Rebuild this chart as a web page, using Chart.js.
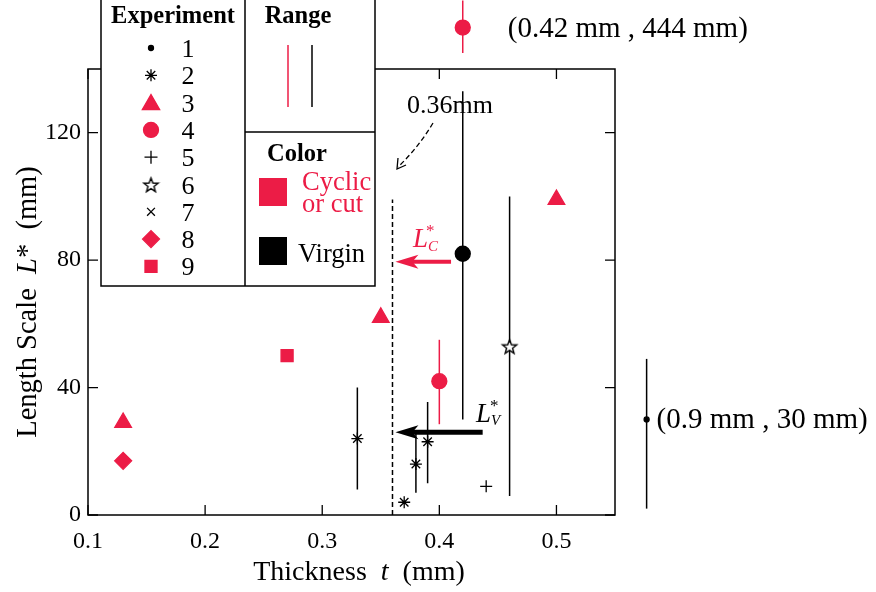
<!DOCTYPE html>
<html>
<head>
<meta charset="utf-8">
<title>Length scale vs thickness</title>
<script src="https://cdn.jsdelivr.net/npm/chart.js@4.4.1/dist/chart.umd.min.js"></script>
<style>
  html, body { margin: 0; padding: 0; background: #fff; }
  #wrap { width: 876px; height: 592px; }
</style>
</head>
<body>
<div id="wrap"><canvas id="lengthChart" width="876" height="592"></canvas></div>
<script>
// ===== Length scale L* against sheet thickness t =====

const RED = '#ec1c46';
const SERIF = "'Liberation Serif', 'DejaVu Serif', serif";

// ---- Axis ticks ----
const xTicks = [0.1, 0.2, 0.3, 0.4, 0.5];
const yTicks = [0, 40, 80, 120];

// ---- Experiments (t in mm, L* in mm) ----
const exp2T = [0.33, 0.38, 0.39, 0.37];     // asterisk, virgin
const exp2L = [24, 16, 23, 4];
const exp3T = [0.13, 0.35, 0.50];           // triangle, cyclic/cut
const exp3L = [29, 62, 99];
const exp4CutT = [0.40];                    // circle, cyclic/cut
const exp4CutL = [42];
const exp4VirginT = [0.42];                 // circle, virgin
const exp4VirginL = [82];
const exp5T = [0.44];                       // plus, virgin
const exp5L = [9];
const exp6T = [0.46];                       // open star, virgin
const exp6L = [53];
const exp8T = [0.13];                       // diamond, cyclic/cut
const exp8L = [17];
const exp9T = [0.27];                       // square, cyclic/cut
const exp9L = [50];

// ---- Ranges (vertical bars) ----
const rangeVirginT  = [0.33, 0.38, 0.39, 0.42, 0.46];
const rangeVirginLo = [8, 7, 10, 30, 6];
const rangeVirginHi = [40, 26, 35.5, 133, 100];
const rangeCutT  = [0.40];
const rangeCutLo = [28.5];
const rangeCutHi = [55];

// ---- Off-scale results, shown past the axis break ----
const exp1T = 0.9, exp1L = 30, exp1Lo = 2, exp1Hi = 49;
const exp1ShownT = 0.577;                    // drawn just right of the frame
const exp4FarT = 0.42, exp4FarL = 444;
const exp4FarShownL = 153, exp4FarShownLo = 145, exp4FarShownHi = 161.5;  // drawn above the frame

// ---- Critical thickness ----
const cutoffT = 0.36;
const cutoffTop = 99;

// ---- helpers ----
function pts(t, l) { return t.map((v, i) => ({ x: v, y: l[i] })); }
function bars(t, lo, hi) {
    const out = [];
    t.forEach((v, i) => { out.push({ x: v, y: lo[i] }, { x: v, y: hi[i] }, { x: v, y: null }); });
    return out;
}

function makeStar(r) {
    const s = Math.ceil(r * 2 + 4);
    const c = document.createElement('canvas');
    c.width = c.height = s;
    const g = c.getContext('2d');
    g.beginPath();
    for (let k = 0; k < 10; k++) {
        const rr = k % 2 ? r * 0.42 : r;
        const a = -Math.PI / 2 + k * Math.PI / 5;
        const px = s / 2 + rr * Math.cos(a), py = s / 2 + 1 + rr * Math.sin(a);
        if (k) g.lineTo(px, py); else g.moveTo(px, py);
    }
    g.closePath();
    g.fillStyle = '#fff';
    g.fill();
    g.strokeStyle = '#000';
    g.lineWidth = 1.4;
    g.stroke();
    return c;
}
const starPlot = makeStar(7.5);
const starLegend = makeStar(7.5);

function marker(data, style, radius, color) {
    return {
        type: 'scatter', data, pointStyle: style, pointRadius: radius,
        pointBackgroundColor: color, pointBorderColor: color, pointBorderWidth: 1.3,
        order: 0, clip: false
    };
}
function rangeLine(data, color) {
    return {
        type: 'line', data, borderColor: color, borderWidth: 1.5, pointRadius: 0,
        spanGaps: false, showLine: true, order: 10, clip: false
    };
}

function dot(ctx, style, radius, color, px, py) {
    ctx.save();
    ctx.fillStyle = color;
    ctx.strokeStyle = color;
    ctx.lineWidth = 1.3;
    Chart.helpers.drawPoint(ctx, { pointStyle: style, radius, borderWidth: 1.3, rotation: 0 }, px, py);
    ctx.restore();
}

// text made of several runs (normal / italic / sub / super)
function drawRuns(ctx, parts, x, y, align) {
    let w = 0;
    parts.forEach(p => { ctx.font = p[1]; w += ctx.measureText(p[0]).width; });
    let cx = align === 'center' ? x - w / 2 : x;
    ctx.textAlign = 'left';
    ctx.textBaseline = 'alphabetic';
    parts.forEach(p => {
        ctx.font = p[1];
        ctx.fillStyle = p[3] || '#000';
        ctx.fillText(p[0], cx, y + (p[2] || 0));
        cx += ctx.measureText(p[0]).width;
    });
}

function arrowLeft(ctx, xTail, xTip, y, color, shaft) {
    ctx.save();
    ctx.fillStyle = color;
    ctx.strokeStyle = color;
    ctx.lineWidth = shaft;
    ctx.beginPath();
    ctx.moveTo(xTail, y);
    ctx.lineTo(xTip + 16, y);
    ctx.stroke();
    ctx.beginPath();
    ctx.moveTo(xTip, y);
    ctx.lineTo(xTip + 23, y - 7);
    ctx.lineTo(xTip + 17, y);
    ctx.lineTo(xTip + 23, y + 7);
    ctx.closePath();
    ctx.fill();
    ctx.restore();
}

// ---- Frame with inward ticks ----
const framePlugin = {
    id: 'frame',
    beforeDatasetsDraw(chart) {
        const { ctx, chartArea: a, scales: { x, y } } = chart;
        ctx.save();
        ctx.strokeStyle = '#000';
        ctx.lineWidth = 1.5;
        ctx.strokeRect(a.left, a.top, a.right - a.left, a.bottom - a.top);
        ctx.lineWidth = 1.3;
        ctx.beginPath();
        xTicks.forEach(v => {
            const px = x.getPixelForValue(v);
            ctx.moveTo(px, a.bottom); ctx.lineTo(px, a.bottom - 10);
            ctx.moveTo(px, a.top); ctx.lineTo(px, a.top + 10);
        });
        yTicks.forEach(v => {
            const py = y.getPixelForValue(v);
            ctx.moveTo(a.left, py); ctx.lineTo(a.left + 10, py);
            ctx.moveTo(a.right, py); ctx.lineTo(a.right - 10, py);
        });
        ctx.stroke();
        ctx.restore();
    }
};

// ---- Annotations, axis titles and the key ----
const notePlugin = {
    id: 'notes',
    afterDatasetsDraw(chart) {
        const { ctx, scales: { x, y } } = chart;
        const f = (s, st) => (st || '') + ' ' + s + 'px ' + SERIF;

        // off-scale points sit outside the chart area, so they are placed here
        const p1x = x.getPixelForValue(exp1ShownT), p1y = y.getPixelForValue(exp1L);
        dot(ctx, 'circle', 2.5, '#000', p1x, p1y);
        const p4x = x.getPixelForValue(exp4FarT), p4y = y.getPixelForValue(exp4FarShownL);
        dot(ctx, 'circle', 7.5, RED, p4x, p4y);

        drawRuns(ctx, [['(' + exp4FarT + ' mm , ' + exp4FarL + ' mm)', f(29)]], p4x + 45, p4y + 9);
        drawRuns(ctx, [['(' + exp1T + ' mm , ' + exp1L + ' mm)', f(29)]], p1x + 10, p1y + 9);

        // L_C* and L_V* arrows
        const yc = y.getPixelForValue(79.5);
        arrowLeft(ctx, x.getPixelForValue(0.41), x.getPixelForValue(0.3625), yc, RED, 4);
        drawRuns(ctx, [['L', f(27, 'italic'), 0, RED], ['C', f(15, 'italic'), 4, RED]], 413, yc - 15);
        drawRuns(ctx, [['*', f(17), 0, RED]], 426, yc - 26);

        const yv = y.getPixelForValue(26);
        arrowLeft(ctx, x.getPixelForValue(0.437), x.getPixelForValue(0.3625), yv, '#000', 5);
        drawRuns(ctx, [['L', f(27, 'italic')], ['V', f(15, 'italic'), 3]], 476, yv - 10);
        drawRuns(ctx, [['*', f(17)]], 490, yv - 21);

        // 0.36mm note with dashed curved arrow
        drawRuns(ctx, [['0.36mm', f(26)]], 450, 113, 'center');
        ctx.save();
        ctx.strokeStyle = '#000';
        ctx.lineWidth = 1.3;
        ctx.setLineDash([5, 3]);
        ctx.beginPath();
        ctx.moveTo(433, 123);
        ctx.quadraticCurveTo(418, 148, 398, 167);
        ctx.stroke();
        ctx.setLineDash([]);
        ctx.beginPath();
        ctx.moveTo(398, 158); ctx.lineTo(397, 169); ctx.lineTo(406, 165);
        ctx.stroke();
        ctx.restore();
    },
    afterDraw(chart) {
        const { ctx } = chart;
        const f = (s, st) => (st || '') + ' ' + s + 'px ' + SERIF;

        // axis titles
        drawRuns(ctx, [['Thickness  ', f(28)], ['t', f(28, 'italic')], ['  (mm)', f(28)]], 359, 580, 'center');
        ctx.save();
        ctx.translate(36, 302);
        ctx.rotate(-Math.PI / 2);
        drawRuns(ctx, [['Length Scale  ', f(28.5)], ['L', f(28.5, 'italic')], ['*  (mm)', f(28.5)]], 0, 0, 'center');
        ctx.restore();

        // key box
        ctx.save();
        ctx.fillStyle = '#fff';
        ctx.fillRect(101, -2, 274, 288);
        ctx.strokeStyle = '#000';
        ctx.lineWidth = 1.5;
        ctx.strokeRect(101, -2, 274, 288);
        ctx.beginPath();
        ctx.moveTo(245, -2); ctx.lineTo(245, 286);
        ctx.moveTo(245, 132); ctx.lineTo(375, 132);
        ctx.stroke();
        ctx.restore();

        drawRuns(ctx, [['Experiment', f(24.5, 'bold')]], 173, 23, 'center');
        drawRuns(ctx, [['Range', f(24.5, 'bold')]], 298, 23, 'center');
        drawRuns(ctx, [['Color', f(24.5, 'bold')]], 297, 161, 'center');

        const keys = [
            ['circle', 2.5, '#000'], ['star', 6, '#000'], ['triangle', 10, RED],
            ['circle', 7.5, RED], ['cross', 6.5, '#000'], [starLegend, 0, '#000'],
            ['crossRot', 5.5, '#000'], ['rectRot', 8.5, RED], ['rect', 8.5, RED]
        ];
        keys.forEach((k, i) => {
            const cy = 48 + i * 27.3;
            dot(ctx, k[0], k[1], k[2], 151, cy + (k[0] === 'triangle' ? 2 : 0));
            drawRuns(ctx, [[String(i + 1), f(26)]], 188, cy + 9, 'center');
        });

        ctx.save();
        ctx.lineWidth = 1.5;
        ctx.strokeStyle = RED;
        ctx.beginPath(); ctx.moveTo(288, 45); ctx.lineTo(288, 107); ctx.stroke();
        ctx.strokeStyle = '#000';
        ctx.beginPath(); ctx.moveTo(312, 45); ctx.lineTo(312, 107); ctx.stroke();
        ctx.fillStyle = RED;
        ctx.fillRect(259, 178, 28, 28);
        ctx.fillStyle = '#000';
        ctx.fillRect(259, 237, 28, 28);
        ctx.restore();
        drawRuns(ctx, [['Cyclic', f(26.5), 0, RED]], 302, 190);
        drawRuns(ctx, [['or cut', f(26.5), 0, RED]], 302, 212);
        drawRuns(ctx, [['Virgin', f(26.5)]], 298, 262);
    }
};

// ---- Chart ----
function initLengthChart() {
    const el = document.getElementById('lengthChart');
    if (!el) return;

    new Chart(el, {
        type: 'scatter',
        data: {
            datasets: [
                rangeLine(bars(rangeVirginT, rangeVirginLo, rangeVirginHi), '#000'),
                rangeLine(bars(rangeCutT, rangeCutLo, rangeCutHi), RED),
                rangeLine(bars([exp1ShownT], [exp1Lo], [exp1Hi]), '#000'),
                rangeLine(bars([exp4FarT], [exp4FarShownLo], [exp4FarShownHi]), RED),
                {
                    type: 'line', data: [{ x: cutoffT, y: 0 }, { x: cutoffT, y: cutoffTop }],
                    borderColor: '#000', borderWidth: 1.5, borderDash: [5, 3], pointRadius: 0, order: 10
                },
                marker(pts(exp2T, exp2L), 'star', 6, '#000'),
                marker(pts(exp3T, exp3L), 'triangle', 9.6, RED),
                marker(pts(exp4CutT, exp4CutL), 'circle', 7.5, RED),
                marker(pts(exp4VirginT, exp4VirginL), 'circle', 7.5, '#000'),
                marker(pts(exp5T, exp5L), 'cross', 6, '#000'),
                marker(pts(exp6T, exp6L), starPlot, 7, '#000'),
                marker(pts(exp8T, exp8L), 'rectRot', 8.5, RED),
                marker(pts(exp9T, exp9L), 'rect', 8.5, RED)
            ]
        },
        options: {
            responsive: false,
            animation: false,
            events: [],
            layout: { padding: { top: 69, right: 261, left: 0, bottom: 0 } },
            plugins: { legend: { display: false }, tooltip: { enabled: false } },
            scales: {
                x: {
                    type: 'linear', min: 0.1, max: 0.55,
                    afterBuildTicks: s => { s.ticks = xTicks.map(v => ({ value: v })); },
                    ticks: { font: { family: SERIF, size: 24 }, color: '#000', padding: 12,
                             callback: v => v.toFixed(1) },
                    grid: { display: false, drawTicks: false },
                    border: { display: false },
                    afterFit: s => { s.height = 77; }
                },
                y: {
                    type: 'linear', min: 0, max: 140,
                    afterBuildTicks: s => { s.ticks = yTicks.map(v => ({ value: v })); },
                    ticks: { font: { family: SERIF, size: 24 }, color: '#000', padding: 7,
                             callback: v => String(v) },
                    grid: { display: false, drawTicks: false },
                    border: { display: false },
                    afterFit: s => { s.width = 88; }
                }
            }
        },
        plugins: [framePlugin, notePlugin]
    });
}

document.addEventListener('DOMContentLoaded', initLengthChart);
</script>
</body>
</html>
